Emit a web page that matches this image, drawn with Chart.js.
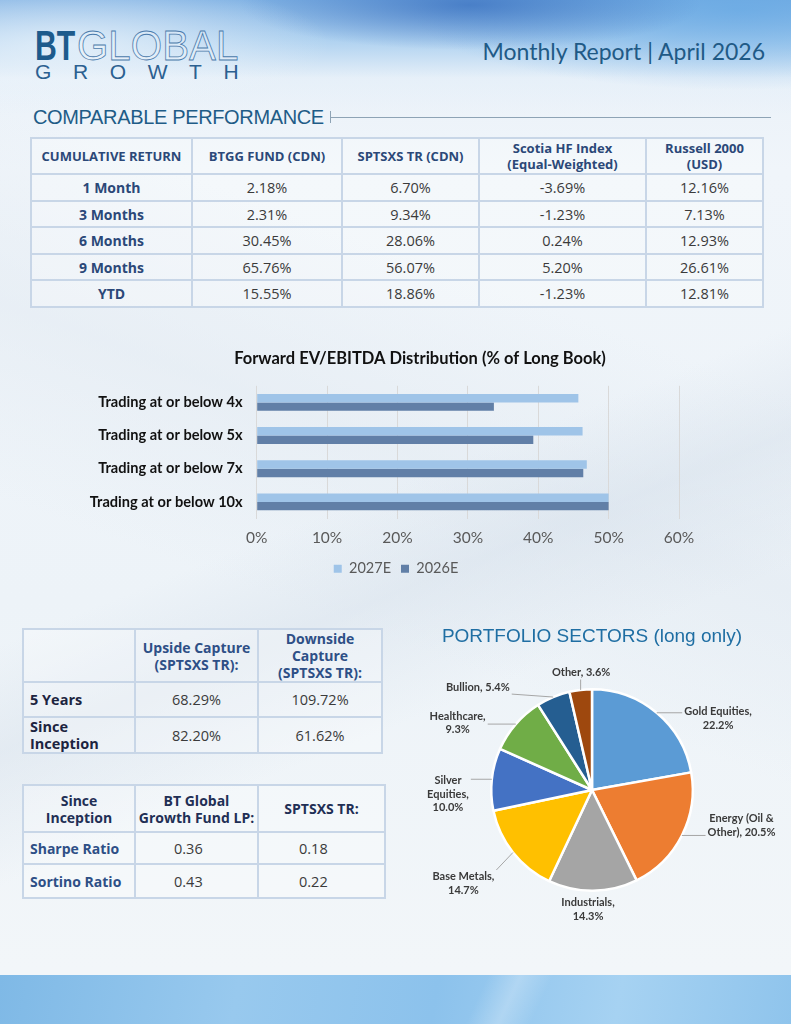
<!DOCTYPE html>
<html>
<head>
<meta charset="utf-8">
<script src="https://cdn.jsdelivr.net/npm/chart.js@4/dist/chart.umd.min.js"></script>
<style>
html,body{margin:0;padding:0;}
body{width:791px;height:1024px;position:relative;overflow:hidden;font-family:'Open Sans',sans-serif;
 background:
  linear-gradient(158deg, rgba(255,255,255,0) 48%, rgba(205,217,230,0.35) 56%, rgba(255,255,255,0) 66%),
  linear-gradient(200deg, rgba(255,255,255,0) 30%, rgba(225,233,241,0.5) 45%, rgba(255,255,255,0) 60%),
  linear-gradient(180deg,#e6eff8 0px,#f0f5fa 170px,#edf3f8 600px,#f2f6f9 970px);}
#topband{position:absolute;left:0;top:0;width:791px;height:125px;
 background:
  radial-gradient(ellipse 260px 70px at 70px 45px, rgba(238,245,251,0.75), rgba(238,245,251,0) 100%),
  radial-gradient(ellipse 230px 45px at 470px 5px, rgba(55,110,190,0.75), rgba(55,110,190,0) 100%),
  radial-gradient(ellipse 330px 80px at 740px 10px, rgba(100,168,228,0.7), rgba(100,168,228,0) 100%),
  linear-gradient(180deg, rgba(115,170,225,0.9) 0px, rgba(150,196,236,0.7) 40px, rgba(222,236,248,0.35) 78px, rgba(240,245,250,0) 115px);}
#botband{position:absolute;left:0;top:975px;width:791px;height:49px;
 background:
  linear-gradient(115deg, rgba(255,255,255,0) 60%, rgba(255,255,255,0.25) 64%, rgba(255,255,255,0) 68%),
  linear-gradient(100deg,#7fb9e6 0%,#98c9ee 30%,#8cc2ec 55%,#a6d2f2 78%,#8fc4ec 100%);}
.logo{position:absolute;white-space:nowrap;}
#bt{left:35px;top:25px;font:bold 42px/42px 'Liberation Sans',Arial,sans-serif;color:#1d5b8c;transform:scaleX(0.72);transform-origin:0 0;}
#glob{left:77px;top:25px;font:normal 42px/42px 'Liberation Sans',Arial,sans-serif;color:rgba(255,255,255,0.3);-webkit-text-stroke:0.8px #4a7aab;transform:scaleX(0.96);transform-origin:0 0;}
#growth{left:35px;top:61px;font:normal 21px/21px 'Liberation Sans',Arial,sans-serif;color:#2c6090;letter-spacing:21.6px;}
#report{position:absolute;right:26px;top:37px;font:normal 23px/28px Lato,sans-serif;color:#1f5a86;white-space:nowrap;}
#sect{position:absolute;left:33px;top:106px;font:normal 20px/22px 'Liberation Sans',Arial,sans-serif;color:#1f5c87;letter-spacing:-0.35px;white-space:nowrap;}
#sectline{position:absolute;left:331px;top:117px;width:440px;height:1px;background:#8ea3b5;}
#secttick{position:absolute;left:330px;top:111px;width:1px;height:12px;background:#8ea3b5;}
table{position:absolute;border-collapse:collapse;table-layout:fixed;}
td{border:2px solid #c8d6e7;text-align:center;vertical-align:middle;padding:0 2px;white-space:pre;background:rgba(255,255,255,0.28);}
td.h{font-weight:bold;font-size:13px;line-height:16px;color:#2b4878;}
td.lab{font-weight:bold;font-size:14px;color:#2b4878;}
td.v{font-size:14.5px;color:#3b3b3b;}
#t2 td.h{font-size:14px;line-height:17px;color:#2e4f86;}
#t2 td.lab{text-align:left;padding-left:6px;color:#1c2440;font-size:14.5px;line-height:17px;}
#t3 td.h{font-size:14px;line-height:17px;color:#1f2f55;}
#t3 td.lab{text-align:left;padding-left:6px;color:#2e4f86;font-size:14px;}
#t3 td.v{text-align:left;}
canvas{position:absolute;}
</style>
</head>
<body>
<div id="topband"></div>
<div id="botband"></div>
<div class="logo" id="bt">BT</div>
<div class="logo" id="glob">GLOBAL</div>
<div class="logo" id="growth">GROWTH</div>
<div id="report">Monthly Report | April 2026</div>
<div id="sect">COMPARABLE PERFORMANCE</div>
<div id="secttick"></div><div id="sectline"></div>

<table id="t1" style="left:30px;top:137px;"></table>
<table id="t2" style="left:22px;top:628px;"></table>
<table id="t3" style="left:22px;top:784px;"></table>

<canvas id="evChart" width="720" height="250" style="left:60px;top:340px;"></canvas>
<canvas id="pieChart" width="381" height="320" style="left:410px;top:620px;"></canvas>

<script>
// ---------- Comparable performance table ----------
const perfColumns = ['CUMULATIVE RETURN','BTGG FUND (CDN)','SPTSXS TR (CDN)','Scotia HF Index\n(Equal-Weighted)','Russell 2000\n(USD)'];
const perfPeriods = ['1 Month','3 Months','6 Months','9 Months','YTD'];
const perfBTGG = ['2.18%','2.31%','30.45%','65.76%','15.55%'];
const perfSPTSXS = ['6.70%','9.34%','28.06%','56.07%','18.86%'];
const perfScotiaHF = ['-3.69%','-1.23%','0.24%','5.20%','-1.23%'];
const perfRussell = ['12.16%','7.13%','12.93%','26.61%','12.81%'];

// ---------- Capture table ----------
const captureColumns = ['','Upside Capture\n(SPTSXS TR):','Downside\nCapture\n(SPTSXS TR):'];
const capturePeriods = ['5 Years','Since\nInception'];
const captureUpside = ['68.29%','82.20%'];
const captureDownside = ['109.72%','61.62%'];

// ---------- Ratio table ----------
const ratioColumns = ['Since\nInception','BT Global\nGrowth Fund LP:','SPTSXS TR:'];
const ratioNames = ['Sharpe Ratio','Sortino Ratio'];
const ratioFund = ['0.36','0.43'];
const ratioIndex = ['0.18','0.22'];

// ---------- EV/EBITDA bar chart ----------
const evCategories = ['Trading at or below 4x','Trading at or below 5x','Trading at or below 7x','Trading at or below 10x'];
const evSeriesNames = ['2027E','2026E'];
const ev2027E = [45.7, 46.3, 46.9, 50.0];
const ev2026E = [33.7, 39.3, 46.4, 50.0];

// ---------- Sector pie ----------
const sectorNames = ['Gold Equities','Energy (Oil & Other)','Industrials','Base Metals','Silver Equities','Healthcare','Bullion','Other'];
const sectorWeights = [22.2, 20.5, 14.3, 14.7, 10.0, 9.3, 5.4, 3.6];

// ---------- styles ----------
const sectorColors = ['#5b9bd5','#ed7d31','#a5a5a5','#ffc000','#4472c4','#70ad47','#255e91','#9e480e'];
const sectorLabelLayout = [
  {angle:60.3, dist:1.44, wrap:90},
  {angle:103.3, dist:1.525, wrap:90},
  {angle:181.9, dist:1.19, wrap:75},
  {angle:233.9, dist:1.58, wrap:75},
  {angle:268.4, dist:1.43, wrap:52},
  {angle:296.5, dist:1.49, wrap:75},
  {angle:312.0, dist:1.525, wrap:110},
  {angle:354.7, dist:1.17, wrap:110}
];

function buildTable(id, cols, widths, heights, labels, valueCols){
  const t = document.getElementById(id);
  const cg = document.createElement('colgroup');
  widths.forEach(w=>{const c=document.createElement('col');c.style.width=w+'px';cg.appendChild(c);});
  t.appendChild(cg);
  t.style.width = widths.reduce((a,b)=>a+b,0)+'px';
  const hr = document.createElement('tr'); hr.style.height = heights[0]+'px';
  cols.forEach(c=>{const td=document.createElement('td');td.className='h';td.textContent=c;hr.appendChild(td);});
  t.appendChild(hr);
  labels.forEach((lab,i)=>{
    const tr=document.createElement('tr'); tr.style.height=heights[i+1]+'px';
    const td=document.createElement('td'); td.className='lab'; td.textContent=lab; tr.appendChild(td);
    valueCols.forEach(vc=>{const v=document.createElement('td');v.className='v';v.textContent=vc[i];tr.appendChild(v);});
    t.appendChild(tr);
  });
}
buildTable('t1', perfColumns, [161,150,137,167,117], [36,27,26,27,26,27], perfPeriods, [perfBTGG,perfSPTSXS,perfScotiaHF,perfRussell]);
buildTable('t2', captureColumns, [112,123,124], [53,35,36], capturePeriods, [captureUpside,captureDownside]);
buildTable('t3', ratioColumns, [112,123,127], [47,32,34], ratioNames, [ratioFund,ratioIndex]);
document.querySelectorAll('#t3 td.v').forEach((td,i)=>{td.style.paddingLeft = (i%2===0? '38px':'40px');});

// plugin: re-centre title / legend boxes horizontally
const boxShift = {
  id:'boxShift',
  afterLayout(chart, args, opts){
    if (opts.titleCenter != null && chart.titleBlock){
      const t = chart.titleBlock; const w = t.right - t.left;
      t.left = opts.titleCenter - w/2; t.right = t.left + w;
    }
    if (opts.legendCenter != null && chart.legend){
      const l = chart.legend; const w = l.right - l.left;
      l.left = opts.legendCenter - w/2; l.right = l.left + w;
    }
  }
};

new Chart(document.getElementById('evChart'), {
  type:'bar',
  data:{
    labels: evCategories,
    datasets:[
      {label: evSeriesNames[0], data: ev2027E, backgroundColor:'#9fc4e8', categoryPercentage:0.51, barPercentage:1},
      {label: evSeriesNames[1], data: ev2026E, backgroundColor:'#617fa7', categoryPercentage:0.51, barPercentage:1}
    ]
  },
  options:{
    indexAxis:'y', responsive:false, animation:false, devicePixelRatio:1,
    layout:{padding:{top:0,right:101,bottom:4,left:0}},
    scales:{
      x:{min:0, max:60,
         ticks:{stepSize:10, callback:v=>v+'%', color:'#595959', font:{family:'Lato', size:15.5}, padding:10},
         grid:{color:'#d9d9d9', drawTicks:false}, border:{display:false},
         afterFit(s){ s.height = 33; }},
      y:{ticks:{color:'#111111', font:{family:'Lato', size:14.6, weight:'bold'}, padding:14},
         grid:{display:false, drawTicks:false}, border:{display:false},
         afterFit(s){ s.width = 196.7; }}
    },
    plugins:{
      title:{display:true, text:'Forward EV/EBITDA Distribution (% of Long Book)', color:'#111111',
             font:{family:'Lato', size:16.5, weight:'bold'}, padding:{top:9, bottom:17}},
      legend:{position:'bottom', labels:{boxWidth:8, boxHeight:8, color:'#595959', font:{family:'Lato', size:14.5}, padding:10}},
      tooltip:{enabled:false},
      boxShift:{titleCenter:360, legendCenter:336}
    }
  },
  plugins:[boxShift]
});

// plugin: outside labels with leader lines for the pie
const sectorLabels = {
  id:'sectorLabels',
  afterDatasetsDraw(chart, args, opts){
    const ctx = chart.ctx;
    const meta = chart.getDatasetMeta(0);
    const values = chart.data.datasets[0].data;
    const names = chart.data.labels;
    ctx.save();
    ctx.font = 'bold 11px Lato, sans-serif';
    ctx.fillStyle = '#3a3a3a';
    ctx.strokeStyle = '#a6a6a6';
    ctx.lineWidth = 1;
    ctx.textAlign = 'center';
    ctx.textBaseline = 'middle';
    const lh = 13.8;
    meta.data.forEach((arc, i) => {
      const p = arc.getProps(['x','y','startAngle','endAngle','outerRadius'], true);
      const R = p.outerRadius;
      const mid = (p.startAngle + p.endAngle) / 2;
      const lay = opts.layout[i];
      const a = lay.angle * Math.PI / 180 - Math.PI / 2;
      const cx = p.x + lay.dist * R * Math.cos(a);
      const cy = p.y + lay.dist * R * Math.sin(a);
      const text = names[i] + ', ' + values[i].toFixed(1) + '%';
      const words = text.split(' ');
      const lines = [];
      let cur = '';
      words.forEach(w => {
        const test = cur ? cur + ' ' + w : w;
        if (cur && ctx.measureText(test).width > lay.wrap) { lines.push(cur); cur = w; }
        else cur = test;
      });
      if (cur) lines.push(cur);
      const maxW = Math.max(...lines.map(l => ctx.measureText(l).width));
      const top = cy - lines.length * lh / 2;
      const bottom = cy + lines.length * lh / 2;
      const left = cx - maxW / 2 - 2, right = cx + maxW / 2 + 2;
      const ex = p.x + R * Math.cos(mid), ey = p.y + R * Math.sin(mid);
      const px = Math.min(Math.max(ex, left), right);
      const py = Math.min(Math.max(ey, top), bottom);
      if (Math.hypot(px - ex, py - ey) > 8) {
        ctx.beginPath(); ctx.moveTo(ex, ey); ctx.lineTo(px, py); ctx.stroke();
      }
      lines.forEach((l, k) => ctx.fillText(l, cx, top + lh * (k + 0.5)));
    });
    ctx.restore();
  }
};

new Chart(document.getElementById('pieChart'), {
  type:'pie',
  data:{labels: sectorNames, datasets:[{data: sectorWeights, backgroundColor: sectorColors, borderColor:'#ffffff', borderWidth:2.5}]},
  options:{
    responsive:false, animation:false, devicePixelRatio:1,
    layout:{padding:{left:0, right:17, top:0, bottom:48}},
    plugins:{
      legend:{display:false}, tooltip:{enabled:false},
      title:{display:true, text:'PORTFOLIO SECTORS (long only)', color:'#1f6ea3',
             font:{family:'Liberation Sans', size:19, weight:'normal'}, padding:{top:5.6, bottom:39.6}},
      sectorLabels:{layout: sectorLabelLayout}
    }
  },
  plugins:[sectorLabels]
});
</script>
</body>
</html>
